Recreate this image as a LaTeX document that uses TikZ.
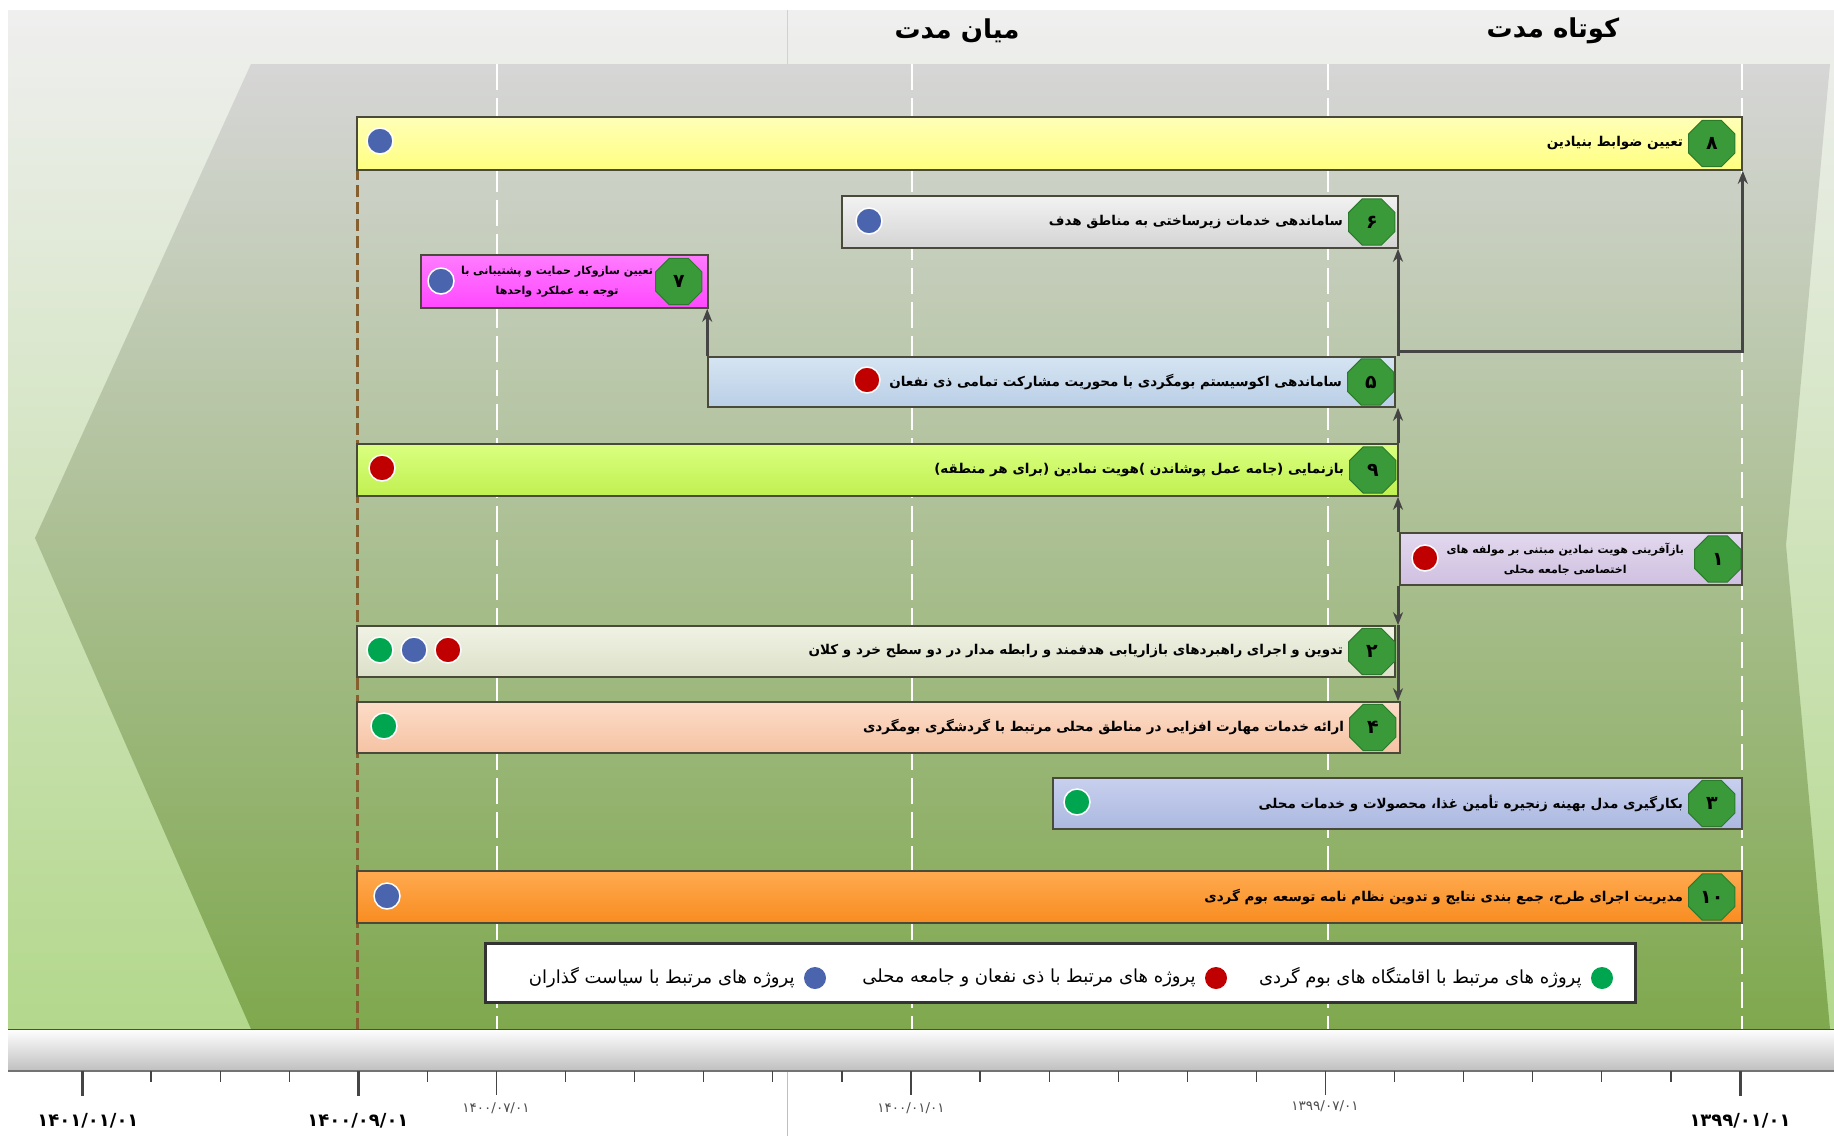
\documentclass[tikz,border=0pt]{standalone}
\usepackage{fontspec}
\usetikzlibrary{arrows.meta,shapes.geometric,shadows}
\newfontfamily\fa[Script=Arabic]{DejaVu Sans}
\TeXXeTstate=1
\definecolor{outtop}{HTML}{EFEFEF}
\definecolor{outbot}{HTML}{B3D88C}
\definecolor{intop}{HTML}{D6D6D6}
\definecolor{inbot}{HTML}{7FA84E}
\definecolor{barline}{HTML}{4A4A3A}
\definecolor{linkgray}{HTML}{454545}
\definecolor{brownline}{HTML}{86602E}
\definecolor{badgegreen}{HTML}{3A9A3A}
\definecolor{badgedark}{HTML}{2B7A2B}
\definecolor{dotblue}{HTML}{4A64AE}
\definecolor{dotred}{HTML}{C00000}
\definecolor{dotgreen}{HTML}{00A550}
\definecolor{yellowA}{HTML}{FFFFB8}\definecolor{yellowB}{HTML}{FFFF80}
\definecolor{grayA}{HTML}{F2F2F2}\definecolor{grayB}{HTML}{D4D4D4}
\definecolor{pinkA}{HTML}{FF7CFF}\definecolor{pinkB}{HTML}{FF48FF}
\definecolor{steelA}{HTML}{D6E4F2}\definecolor{steelB}{HTML}{B9CFE6}
\definecolor{limeA}{HTML}{DAFF80}\definecolor{limeB}{HTML}{C0F050}
\definecolor{lilacA}{HTML}{E2D8EE}\definecolor{lilacB}{HTML}{CFC0E0}
\definecolor{creamA}{HTML}{F0F2E4}\definecolor{creamB}{HTML}{DCE0C8}
\definecolor{peachA}{HTML}{FCDCC8}\definecolor{peachB}{HTML}{F5C3A3}
\definecolor{periA}{HTML}{C8D0EE}\definecolor{periB}{HTML}{ACB8E0}
\definecolor{orangeA}{HTML}{FFAA50}\definecolor{orangeB}{HTML}{F88C20}
\begin{document}
    \begin{tikzpicture}[x=1pt, y=-1pt,
        bar/.style = {draw=barline, line width=1.6pt, inner sep=0pt},
        badge/.style = {regular polygon, regular polygon sides=8, minimum size=50pt, inner sep=0pt,
            fill=badgegreen, draw=badgedark, line width=1pt, font=\fa\bfseries\fontsize{19}{19}\selectfont},
        dot/.style = {circle, minimum size=26pt, inner sep=0pt, draw=white, line width=1.5pt},
        keydot/.style = {circle, minimum size=22pt, inner sep=0pt},
        txt/.style = {anchor=east, inner sep=0pt, font=\fa\bfseries\fontsize{13.5}{16}\selectfont},
        twoline/.style = {anchor=east, inner sep=0pt, align=center, font=\fa\bfseries\fontsize{11}{20}\selectfont},
        keytxt/.style = {anchor=east, inner sep=0pt, font=\fa\fontsize{18}{20}\selectfont},
        head/.style = {font=\fa\bfseries\fontsize{26}{28}\selectfont},
        datebig/.style = {font=\fa\bfseries\fontsize{18}{19}\selectfont},
        datesmall/.style = {font=\fa\fontsize{13.5}{14}\selectfont, text=black!70},
        link/.style = {draw=linkgray, line width=3pt, -{Stealth[length=13pt,width=10pt]}},
        grid/.style = {white, line width=2pt, dash pattern=on 26pt off 8pt}]
        \useasboundingbox (0,0) rectangle (1834,1136);
        \shade[top color=outtop, bottom color=outbot] (8,10) rectangle (1834,1029);
        \shade[top color=intop, bottom color=inbot] (251,64) -- (1830,64) -- (1786,545) -- (1830,1029) -- (251,1029) -- (35,538) -- cycle;
        \draw[black!18, line width=0.8pt] (787,10) -- (787,64);
        \draw[black!25, line width=0.8pt] (787,1071) -- (787,1136);
        \node[head] (mid) at (957,31) {\beginR میان مدت\endR};
        \node[head] (short) at (1553,31) {\beginR کوتاه مدت\endR};
        \draw[style = grid] (497,64) -- (497,1029);
        \draw[style = grid] (912,64) -- (912,1029);
        \draw[style = grid] (1328,64) -- (1328,1029);
        \draw[style = grid] (1742,64) -- (1742,1029);
        \draw[style = dashed, brownline, line width=3pt, dash pattern=on 12pt off 5pt] (357,117) -- (357,1029);
        \node[bar, top color=yellowA, bottom color=yellowB, minimum width=1385, minimum height=53] (b8) at (1049.5,143.5) {};
        \node[bar, top color=grayA, bottom color=grayB, minimum width=556, minimum height=52] (b6) at (1120,222) {};
        \node[bar, top color=pinkA, bottom color=pinkB, minimum width=287, minimum height=53] (b7) at (564.5,281.5) {};
        \node[bar, top color=steelA, bottom color=steelB, minimum width=687, minimum height=50] (b5) at (1051.5,382) {};
        \node[bar, top color=limeA, bottom color=limeB, minimum width=1041, minimum height=52] (b9) at (877.5,470) {};
        \node[bar, top color=lilacA, bottom color=lilacB, minimum width=342, minimum height=52] (b1) at (1571,559) {};
        \node[bar, top color=creamA, bottom color=creamB, minimum width=1038, minimum height=51] (b2) at (876,651.5) {};
        \node[bar, top color=peachA, bottom color=peachB, minimum width=1043, minimum height=51] (b4) at (878.5,727.5) {};
        \node[bar, top color=periA, bottom color=periB, minimum width=689, minimum height=51] (b3) at (1397.5,803.5) {};
        \node[bar, top color=orangeA, bottom color=orangeB, minimum width=1385, minimum height=52] (b10) at (1049.5,897) {};
        \node[badge] (n8) at ([xshift=-31pt]b8.east) {۸};
        \node[badge] (n6) at ([xshift=-27pt]b6.east) {۶};
        \node[badge] (n7) at ([xshift=-30pt]b7.east) {۷};
        \node[badge] (n5) at ([xshift=-25pt]b5.east) {۵};
        \node[badge] (n9) at ([xshift=-26pt]b9.east) {۹};
        \node[badge] (n1) at ([xshift=-25pt]b1.east) {۱};
        \node[badge] (n2) at ([xshift=-24pt]b2.east) {۲};
        \node[badge] (n4) at ([xshift=-28pt]b4.east) {۴};
        \node[badge] (n3) at ([xshift=-31pt]b3.east) {۳};
        \node[badge] (n10) at ([xshift=-31pt]b10.east) {۱۰};
        \node[txt] (t8) at ([xshift=-5pt]n8.west) {\beginR تعیین ضوابط بنیادین\endR};
        \node[txt] (t6) at ([xshift=-5pt]n6.west) {\beginR ساماندهی خدمات زیرساختی به مناطق هدف\endR};
        \node[twoline] (t7) at ([xshift=-2pt]n7.west) {\beginR تعیین سازوکار حمایت و پشتیبانی با\endR\\\beginR توجه به عملکرد واحدها\endR};
        \node[txt] (t5) at ([xshift=-5pt]n5.west) {\beginR ساماندهی اکوسیستم بومگردی با محوریت مشارکت تمامی ذی نفعان\endR};
        \node[txt] (t9) at ([xshift=-5pt]n9.west) {\beginR بازنمایی (جامه عمل پوشاندن )هویت نمادین (برای هر منطقه)\endR};
        \node[twoline] (t1) at ([xshift=-10pt]n1.west) {\beginR بازآفرینی هویت نمادین مبتنی بر مولفه های\endR\\\beginR اختصاصی جامعه محلی\endR};
        \node[txt] (t2) at ([xshift=-5pt]n2.west) {\beginR تدوین و اجرای راهبردهای بازاریابی هدفمند و رابطه مدار در دو سطح خرد و کلان\endR};
        \node[txt] (t4) at ([xshift=-5pt]n4.west) {\beginR ارائه خدمات مهارت افزایی در مناطق محلی مرتبط با گردشگری بومگردی\endR};
        \node[txt] (t3) at ([xshift=-5pt]n3.west) {\beginR بکارگیری مدل بهینه زنجیره تأمین غذا، محصولات و خدمات محلی\endR};
        \node[txt] (t10) at ([xshift=-5pt]n10.west) {\beginR مدیریت اجرای طرح، جمع بندی نتایج و تدوین نظام نامه توسعه بوم گردی\endR};
        \node[dot, fill=dotblue] (p8) at (380,141) {};
        \node[dot, fill=dotblue] (p6) at (869,221) {};
        \node[dot, fill=dotblue] (p7) at (441,281) {};
        \node[dot, fill=dotred] (p5) at (867,380) {};
        \node[dot, fill=dotred] (p9) at (382,468) {};
        \node[dot, fill=dotred] (p1) at (1425,558) {};
        \node[dot, fill=dotgreen] (p2g) at (380,650) {};
        \node[dot, fill=dotblue] (p2b) at (414,650) {};
        \node[dot, fill=dotred] (p2r) at (448,650) {};
        \node[dot, fill=dotgreen] (p4) at (384,726) {};
        \node[dot, fill=dotgreen] (p3) at (1077,802) {};
        \node[dot, fill=dotblue] (p10) at (387,896) {};
        \coordinate (j) at (1398,351);
        \draw[style = link] (j |- b1.north) -- (j |- b9.south);
        \draw[style = link] (j |- b9.north) -- (j |- b5.south);
        \draw[style = link] (j |- b5.north) -- (j |- b6.south);
        \draw[style = link] (j) -| (b8.south east);
        \draw[style = link] (b5.north west) -- (b5.north west |- b7.south);
        \draw[style = link] (j |- b1.south) -- (j |- b2.north);
        \draw[style = link] (j |- b2.north) -- (j |- b4.north);
        \node[draw=black!80, line width=3pt, fill=white, minimum width=1150, minimum height=59, drop shadow] (key) at (1060,972.5) {};
        \node[keydot, fill=dotgreen] (kg) at (1602,978) {};
        \node[keytxt] (kgt) at ([xshift=-9pt]kg.west) {\beginR پروژه های مرتبط با اقامتگاه های بوم گردی\endR};
        \node[keydot, fill=dotred] (kr) at (1216,978) {};
        \node[keytxt] (krt) at ([xshift=-9pt]kr.west) {\beginR پروژه های مرتبط با ذی نفعان و جامعه محلی\endR};
        \node[keydot, fill=dotblue] (kb) at (815,978) {};
        \node[keytxt] (kbt) at ([xshift=-9pt]kb.west) {\beginR پروژه های مرتبط با سیاست گذاران\endR};
        \shade[top color=white, bottom color=black!25] (8,1029) rectangle (1834,1071);
        \draw[black!70, line width=1pt] (8,1029) -- (1834,1029);
        \draw[black!55, line width=1.5pt] (8,1071) -- (1834,1071);
        \foreach \m in {0,...,24}
            \draw[linkgray, line width=1.2pt] ({1740-69.083*\m},1071) -- ++(0,11);
        \foreach \m in {6,12,18}
            \draw[linkgray, line width=1.5pt] ({1740-69.083*\m},1071) -- ++(0,24);
        \foreach \m in {0,20,24}
            \draw[linkgray, line width=3pt] ({1740-69.083*\m},1071) -- ++(0,25);
        \node[datebig] (d0) at (1740,1121) {۱۳۹۹/۰۱/۰۱};
        \node[datesmall] (d6) at (1325,1106) {۱۳۹۹/۰۷/۰۱};
        \node[datesmall] (d12) at (911,1108) {۱۴۰۰/۰۱/۰۱};
        \node[datesmall] (d18) at (496,1108) {۱۴۰۰/۰۷/۰۱};
        \node[datebig] (d20) at (358,1121) {۱۴۰۰/۰۹/۰۱};
        \node[datebig] (d24) at (88,1121) {۱۴۰۱/۰۱/۰۱};
    \end{tikzpicture}
\end{document}
